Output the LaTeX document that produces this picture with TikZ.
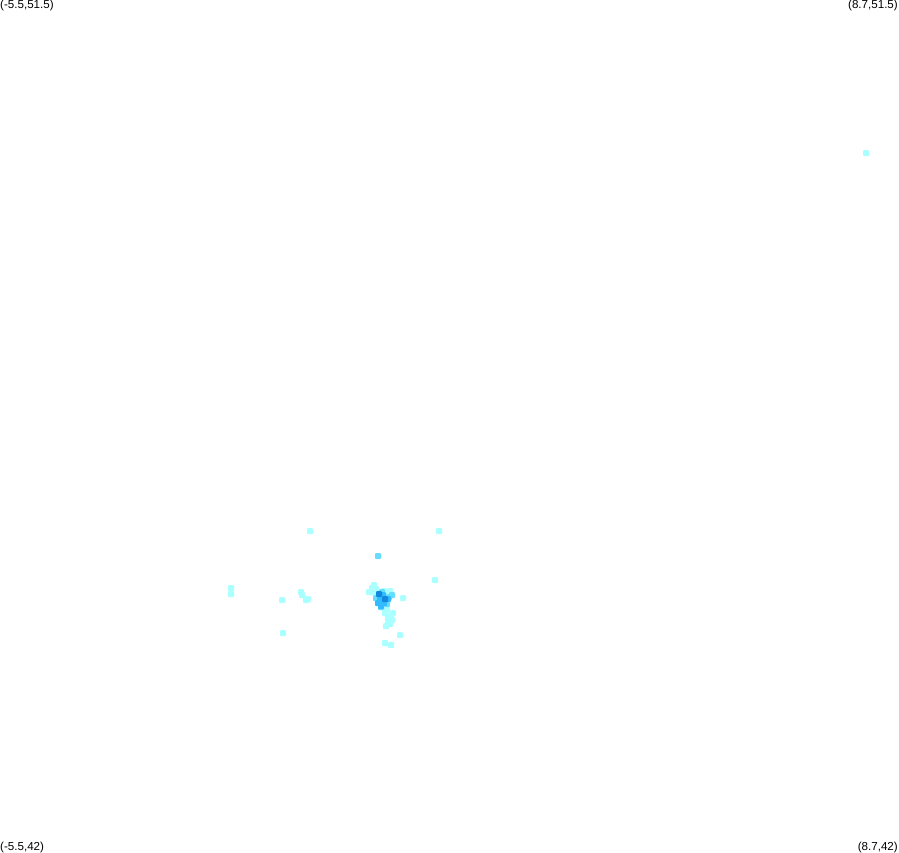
\documentclass[tikz,border=0pt]{standalone}
\usepackage{fontspec}
\setmainfont{Liberation Sans}
\definecolor{cA}{HTML}{AAFFFF}
\definecolor{cB}{HTML}{66DDFF}
\definecolor{cC}{HTML}{33BBFF}
\definecolor{cD}{HTML}{1188DD}
\tikzset{
 cornerlabel/.style={font=\fontsize{11.6}{13}\selectfont,inner sep=0pt,text=black},
 dotA/.style={fill=cA,draw=none},
 dotB/.style={fill=cB,draw=none},
 dotC/.style={fill=cC,draw=none},
 dotD/.style={fill=cD,draw=none}
}
\newcommand{\pdot}[4][6]{\fill[#2,rounded corners=1pt] ({#3-#1/2},{#4-#1/2}) rectangle ({#3+#1/2},{#4+#1/2});}
\begin{document}
\begin{tikzpicture}[x=1pt,y=-1pt]
\useasboundingbox (0,0) rectangle (899,852);
\clip (0,0) rectangle (899,852);
\node[cornerlabel,anchor=north west] (tl) at (0,0) {(-5.5,51.5)};
\node[cornerlabel,anchor=north east] (tr) at (898,0) {(8.7,51.5)};
\node[cornerlabel,anchor=north west] (bl) at (0,842) {(-5.5,42)};
\node[cornerlabel,anchor=north east] (br) at (898,842) {(8.7,42)};
\foreach \x/\y in {866/153,310/531,439/531,435/580,231/588,231/594,301/592,302/595,282/600,306/600,308/599,283/633,403/598,
 374/585,372/588,369/592,374/592,376/589,388/592,385/613,393/613,388/617,392/620,388/621,390/624,386/626,400/635,385/643,391/645,387/610,391/616,384/591,390/591}
 {\pdot{dotA}{\x}{\y}}
\foreach \x/\y in {378/556,392/595,389/597,376/598,381/607,387/604,382/592}
 {\pdot{dotB}{\x}{\y}}
\foreach \x/\y in {380/600,384/603,378/603,383/595,381/606,388/599}
 {\pdot{dotC}{\x}{\y}}
\foreach \x/\y in {379/594,385/599}
 {\pdot{dotD}{\x}{\y}}
\end{tikzpicture}
\end{document}
